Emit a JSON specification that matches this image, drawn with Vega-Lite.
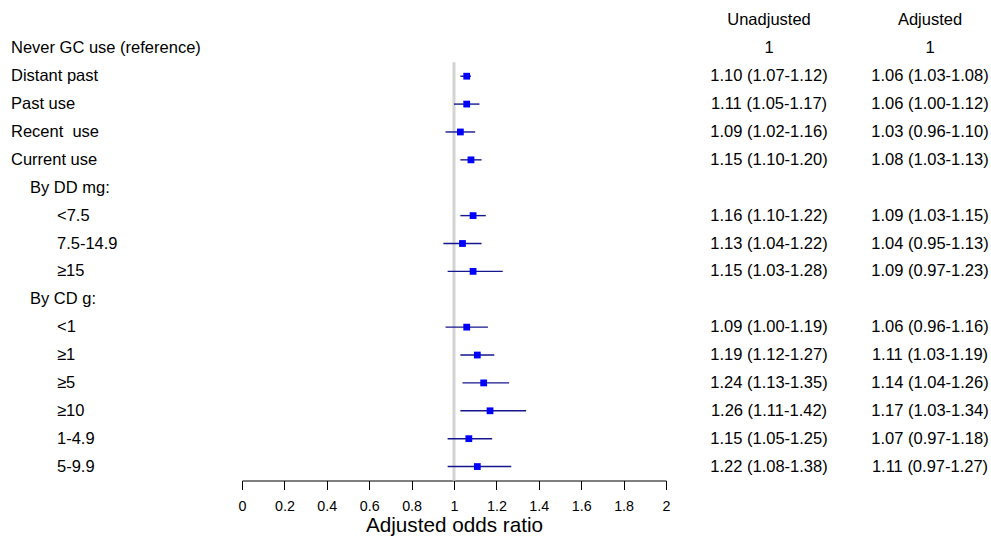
{
  "$schema": "https://vega.github.io/schema/vega-lite/v6.json",
  "padding": {"left": 0, "top": 6.5, "right": 0, "bottom": 0},
  "spacing": 0,
  "bounds": "flush",
  "background": "white",
  "config": {
    "view": {"stroke": null},
    "text": {"font": "Liberation Sans", "fontSize": 16.5, "color": "black", "baseline": "middle"}
  },
  "datasets": {
    "rows": [
      {"row": 0, "label": "", "level": 0, "unadj": "Unadjusted", "adj": "Adjusted"},
      {"row": 1, "label": "Never GC use (reference)", "level": 0, "unadj": "1", "adj": "1"},
      {"row": 2, "label": "Distant past", "level": 0, "or": 1.06, "lo": 1.03, "hi": 1.08, "unadj": "1.10 (1.07-1.12)", "adj": "1.06 (1.03-1.08)"},
      {"row": 3, "label": "Past use", "level": 0, "or": 1.06, "lo": 1.00, "hi": 1.12, "unadj": "1.11 (1.05-1.17)", "adj": "1.06 (1.00-1.12)"},
      {"row": 4, "label": "Recent\u00a0 use", "level": 0, "or": 1.03, "lo": 0.96, "hi": 1.10, "unadj": "1.09 (1.02-1.16)", "adj": "1.03 (0.96-1.10)"},
      {"row": 5, "label": "Current use", "level": 0, "or": 1.08, "lo": 1.03, "hi": 1.13, "unadj": "1.15 (1.10-1.20)", "adj": "1.08 (1.03-1.13)"},
      {"row": 6, "label": "By DD mg:", "level": 1},
      {"row": 7, "label": "<7.5", "level": 2, "or": 1.09, "lo": 1.03, "hi": 1.15, "unadj": "1.16 (1.10-1.22)", "adj": "1.09 (1.03-1.15)"},
      {"row": 8, "label": "7.5-14.9", "level": 2, "or": 1.04, "lo": 0.95, "hi": 1.13, "unadj": "1.13 (1.04-1.22)", "adj": "1.04 (0.95-1.13)"},
      {"row": 9, "label": "≥15", "level": 2, "or": 1.09, "lo": 0.97, "hi": 1.23, "unadj": "1.15 (1.03-1.28)", "adj": "1.09 (0.97-1.23)"},
      {"row": 10, "label": "By CD g:", "level": 1},
      {"row": 11, "label": "<1", "level": 2, "or": 1.06, "lo": 0.96, "hi": 1.16, "unadj": "1.09 (1.00-1.19)", "adj": "1.06 (0.96-1.16)"},
      {"row": 12, "label": "≥1", "level": 2, "or": 1.11, "lo": 1.03, "hi": 1.19, "unadj": "1.19 (1.12-1.27)", "adj": "1.11 (1.03-1.19)"},
      {"row": 13, "label": "≥5", "level": 2, "or": 1.14, "lo": 1.04, "hi": 1.26, "unadj": "1.24 (1.13-1.35)", "adj": "1.14 (1.04-1.26)"},
      {"row": 14, "label": "≥10", "level": 2, "or": 1.17, "lo": 1.03, "hi": 1.34, "unadj": "1.26 (1.11-1.42)", "adj": "1.17 (1.03-1.34)"},
      {"row": 15, "label": "1-4.9", "level": 2, "or": 1.07, "lo": 0.97, "hi": 1.18, "unadj": "1.15 (1.05-1.25)", "adj": "1.07 (0.97-1.18)"},
      {"row": 16, "label": "5-9.9", "level": 2, "or": 1.11, "lo": 0.97, "hi": 1.27, "unadj": "1.22 (1.08-1.38)", "adj": "1.11 (0.97-1.27)"}
    ]
  },
  "resolve": {"scale": {"y": "shared"}},
  "hconcat": [
    {
      "width": 242,
      "height": 474,
      "data": {"name": "rows"},
      "mark": {"type": "text", "align": "left"},
      "encoding": {
        "x": {"field": "level", "type": "quantitative", "axis": null,
              "scale": {"type": "pow", "exponent": 1.276, "domain": [0, 2], "range": [11, 57], "zero": false, "nice": false}},
        "y": {"field": "row", "type": "quantitative", "axis": null,
              "scale": {"domain": [-0.5, 16.5], "reverse": true, "nice": false, "zero": false}},
        "text": {"field": "label"}
      }
    },
    {
      "width": 424,
      "height": 474,
      "layer": [
        {
          "data": {"values": [{"ref": 1, "from": 1.5, "to": 16.5}]},
          "mark": {"type": "rule", "color": "#d3d3d3", "strokeWidth": 3},
          "encoding": {
            "x": {"field": "ref", "type": "quantitative",
                  "scale": {"domain": [0, 2], "nice": false, "zero": false},
                  "axis": {"title": "Adjusted odds ratio", "values": [0, 0.2, 0.4, 0.6, 0.8, 1, 1.2, 1.4, 1.6, 1.8, 2], "format": "~g",
                           "grid": false, "labelFont": "Liberation Sans", "labelFontSize": 14.3, "labelColor": "black",
                           "labelPadding": 10, "labelFlush": false, "tickColor": "black", "tickSize": 9, "tickWidth": 1,
                           "domainColor": "black", "domainWidth": 1,
                           "titleFont": "Liberation Sans", "titleFontSize": 20.7, "titleFontWeight": "normal", "titleColor": "black", "titlePadding": 2}},
            "y": {"field": "from", "type": "quantitative", "axis": null,
                  "scale": {"domain": [-0.5, 16.5], "reverse": true, "nice": false, "zero": false}},
            "y2": {"field": "to"}
          }
        },
        {
          "data": {"name": "rows"},
          "transform": [{"filter": "isValid(datum.or)"}],
          "mark": {"type": "rule", "color": "#16168f", "strokeWidth": 1.4},
          "encoding": {
            "x": {"field": "lo", "type": "quantitative"},
            "x2": {"field": "hi"},
            "y": {"field": "row", "type": "quantitative"}
          }
        },
        {
          "data": {"name": "rows"},
          "transform": [{"filter": "isValid(datum.or)"}],
          "mark": {"type": "point", "shape": "square", "filled": true, "color": "#0000ff", "size": 46, "opacity": 1},
          "encoding": {
            "x": {"field": "or", "type": "quantitative"},
            "y": {"field": "row", "type": "quantitative"}
          }
        }
      ]
    },
    {
      "width": 325,
      "height": 474,
      "data": {"name": "rows"},
      "transform": [
        {"fold": ["unadj", "adj"], "as": ["key", "value"]},
        {"filter": "isValid(datum.value)"}
      ],
      "mark": {"type": "text", "align": "center"},
      "encoding": {
        "x": {"field": "key", "type": "nominal", "axis": null,
              "scale": {"type": "point", "domain": ["unadj", "adj"], "range": [103, 264], "padding": 0}},
        "y": {"field": "row", "type": "quantitative", "axis": null,
              "scale": {"domain": [-0.5, 16.5], "reverse": true, "nice": false, "zero": false}},
        "text": {"field": "value"}
      }
    }
  ]
}
